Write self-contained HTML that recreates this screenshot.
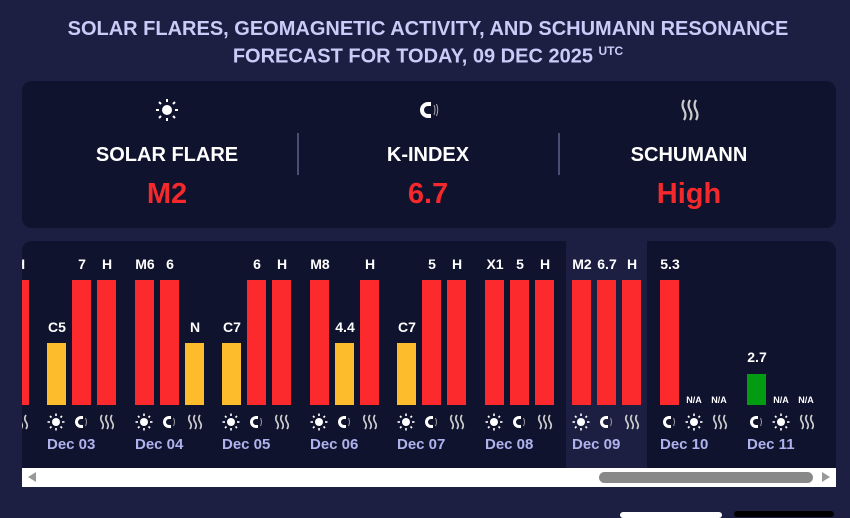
<!DOCTYPE html>
<html><head><meta charset="utf-8"><style>
*{margin:0;padding:0;box-sizing:border-box}
body{width:850px;height:515px;background:#1c1f41;font-family:"Liberation Sans",Arial,sans-serif;position:relative;overflow:hidden}
.t{position:absolute;left:0;width:856px;text-align:center;color:#c9ccf9;font-weight:bold;font-size:20px;white-space:nowrap}
.p{position:absolute;left:22px;width:814px;background:#10132e;border-radius:10px}
.ab{position:absolute}
.lab{position:absolute;color:#fff;font-weight:bold;font-size:20px;text-align:center;width:260px}
.val{position:absolute;color:#f5282b;font-weight:bold;font-size:29px;text-align:center;width:260px}
.div{position:absolute;width:2px;background:#4a4e72;top:133px;height:42px}
.bar{position:absolute;width:19px}
.bl{position:absolute;width:40px;text-align:center;color:#fff;font-weight:bold;font-size:14px}
.na{position:absolute;width:30px;text-align:center;color:#fff;font-weight:bold;font-size:9px}
.dt{position:absolute;color:#aeb3ee;font-weight:bold;font-size:15px}
</style></head><body>
<div class="t" style="top:18px">SOLAR FLARES, GEOMAGNETIC ACTIVITY, AND SCHUMANN RESONANCE</div>
<div class="t" style="top:44px">FORECAST FOR TODAY, 09 DEC 2025 <sup style="font-size:12px">UTC</sup></div>

<div class="p" style="top:81px;height:147px"></div>
<svg class="ab" style="left:155px;top:98px" width="24" height="24" viewBox="-12 -12 24 24"><circle r="5" fill="#fff"/><g stroke="#fff" stroke-width="2"><line x1="0" y1="-11" x2="0" y2="-8"/><line x1="0" y1="8" x2="0" y2="11"/><line x1="-11" y1="0" x2="-8" y2="0"/><line x1="8" y1="0" x2="11" y2="0"/><line x1="-8" y1="-8" x2="-6" y2="-6"/><line x1="6" y1="6" x2="8" y2="8"/><line x1="-8" y1="8" x2="-6" y2="6"/><line x1="6" y1="-6" x2="8" y2="-8"/></g></svg>
<svg class="ab" style="left:417px;top:100px" width="24" height="20" viewBox="0 0 24 20"><path d="M14 4 H11 A6 6 0 1 0 11 16 H14" stroke="#fff" stroke-width="4" fill="none"/><path d="M17 5 Q19 10 17 15 M19.5 4 Q22 10 19.5 16" stroke="#aaa" stroke-width="1" fill="none"/></svg>
<svg class="ab" style="left:680px;top:98px" width="20" height="24" viewBox="0 0 20 24"><g stroke="#ccc" stroke-width="2.2" fill="none"><path d="M4 2 q-3 5 0 10 q3 5 0 10"/><path d="M10 2 q-3 5 0 10 q3 5 0 10"/><path d="M16 2 q-3 5 0 10 q3 5 0 10"/></g></svg>
<div class="lab" style="left:37px;top:144px">SOLAR FLARE</div>
<div class="lab" style="left:298px;top:144px">K-INDEX</div>
<div class="lab" style="left:559px;top:144px">SCHUMANN</div>
<div class="val" style="left:37px;top:178px">M2</div>
<div class="val" style="left:298px;top:178px">6.7</div>
<div class="val" style="left:559px;top:178px">High</div>
<div class="div" style="left:297px"></div>
<div class="div" style="left:558px"></div>

<div class="p" style="top:241px;height:235px;overflow:hidden">
<div style="position:absolute;left:544px;top:0;width:81px;height:235px;background:#1c1f41"></div>
<div style="position:absolute;left:-22px;top:-241px;width:850px;height:515px">
<div class="bar" style="left:10px;top:280px;height:125px;background:#fc2a2c"></div><div class="bl" style="left:0px;top:256px">H</div>

<div class="bar" style="left:47px;top:343px;height:62px;background:#fcbc2c"></div><div class="bl" style="left:37px;top:319px">C5</div>
<div class="bar" style="left:72px;top:280px;height:125px;background:#fc2a2c"></div><div class="bl" style="left:62px;top:256px">7</div>
<div class="bar" style="left:97px;top:280px;height:125px;background:#fc2a2c"></div><div class="bl" style="left:87px;top:256px">H</div>

<div class="bar" style="left:135px;top:280px;height:125px;background:#fc2a2c"></div><div class="bl" style="left:125px;top:256px">M6</div>
<div class="bar" style="left:160px;top:280px;height:125px;background:#fc2a2c"></div><div class="bl" style="left:150px;top:256px">6</div>
<div class="bar" style="left:185px;top:343px;height:62px;background:#fcbc2c"></div><div class="bl" style="left:175px;top:319px">N</div>

<div class="bar" style="left:222px;top:343px;height:62px;background:#fcbc2c"></div><div class="bl" style="left:212px;top:319px">C7</div>
<div class="bar" style="left:247px;top:280px;height:125px;background:#fc2a2c"></div><div class="bl" style="left:237px;top:256px">6</div>
<div class="bar" style="left:272px;top:280px;height:125px;background:#fc2a2c"></div><div class="bl" style="left:262px;top:256px">H</div>

<div class="bar" style="left:310px;top:280px;height:125px;background:#fc2a2c"></div><div class="bl" style="left:300px;top:256px">M8</div>
<div class="bar" style="left:335px;top:343px;height:62px;background:#fcbc2c"></div><div class="bl" style="left:325px;top:319px">4.4</div>
<div class="bar" style="left:360px;top:280px;height:125px;background:#fc2a2c"></div><div class="bl" style="left:350px;top:256px">H</div>

<div class="bar" style="left:397px;top:343px;height:62px;background:#fcbc2c"></div><div class="bl" style="left:387px;top:319px">C7</div>
<div class="bar" style="left:422px;top:280px;height:125px;background:#fc2a2c"></div><div class="bl" style="left:412px;top:256px">5</div>
<div class="bar" style="left:447px;top:280px;height:125px;background:#fc2a2c"></div><div class="bl" style="left:437px;top:256px">H</div>

<div class="bar" style="left:485px;top:280px;height:125px;background:#fc2a2c"></div><div class="bl" style="left:475px;top:256px">X1</div>
<div class="bar" style="left:510px;top:280px;height:125px;background:#fc2a2c"></div><div class="bl" style="left:500px;top:256px">5</div>
<div class="bar" style="left:535px;top:280px;height:125px;background:#fc2a2c"></div><div class="bl" style="left:525px;top:256px">H</div>

<div class="bar" style="left:572px;top:280px;height:125px;background:#fc2a2c"></div><div class="bl" style="left:562px;top:256px">M2</div>
<div class="bar" style="left:597px;top:280px;height:125px;background:#fc2a2c"></div><div class="bl" style="left:587px;top:256px">6.7</div>
<div class="bar" style="left:622px;top:280px;height:125px;background:#fc2a2c"></div><div class="bl" style="left:612px;top:256px">H</div>

<div class="bar" style="left:660px;top:280px;height:125px;background:#fc2a2c"></div><div class="bl" style="left:650px;top:256px">5.3</div>
<div class="na" style="left:679px;top:395px">N/A</div><div class="na" style="left:704px;top:395px">N/A</div>

<div class="bar" style="left:747px;top:374px;height:31px;background:#029b12"></div><div class="bl" style="left:737px;top:349px">2.7</div>
<div class="na" style="left:766px;top:395px">N/A</div><div class="na" style="left:791px;top:395px">N/A</div>

<div class="dt" style="left:47px;top:436px">Dec 03</div>
<div class="dt" style="left:135px;top:436px">Dec 04</div>
<div class="dt" style="left:222px;top:436px">Dec 05</div>
<div class="dt" style="left:310px;top:436px">Dec 06</div>
<div class="dt" style="left:397px;top:436px">Dec 07</div>
<div class="dt" style="left:485px;top:436px">Dec 08</div>
<div class="dt" style="left:572px;top:436px">Dec 09</div>
<div class="dt" style="left:660px;top:436px">Dec 10</div>
<div class="dt" style="left:747px;top:436px">Dec 11</div>
</div>
<svg style="position:absolute;left:-22px;top:-241px" width="850" height="515">
<defs>
<g id="s"><circle r="4" fill="#fff"/><g stroke="#fff" stroke-width="1.6"><line x1="0" y1="-8.5" x2="0" y2="-6"/><line x1="0" y1="6" x2="0" y2="8.5"/><line x1="-8.5" y1="0" x2="-6" y2="0"/><line x1="6" y1="0" x2="8.5" y2="0"/><line x1="-6" y1="-6" x2="-4.5" y2="-4.5"/><line x1="4.5" y1="4.5" x2="6" y2="6"/><line x1="-6" y1="6" x2="-4.5" y2="4.5"/><line x1="4.5" y1="-4.5" x2="6" y2="-6"/></g></g>
<g id="m"><path d="M2 -4.5 H0 A4.5 4.5 0 1 0 0 4.5 H2" stroke="#fff" stroke-width="3" fill="none"/><path d="M4.5 -4 Q6.5 0 4.5 4" stroke="#999" stroke-width="1" fill="none"/></g>
<g id="w" stroke="#ccc" stroke-width="1.7" fill="none"><path d="M-5 -7 q-2.5 3.5 0 7 q2.5 3.5 0 7"/><path d="M0 -7 q-2.5 3.5 0 7 q2.5 3.5 0 7"/><path d="M5 -7 q-2.5 3.5 0 7 q2.5 3.5 0 7"/></g>
</defs>
<use href="#w" x="21" y="422"/>
<use href="#s" x="56" y="422"/><use href="#m" x="81" y="422"/><use href="#w" x="107" y="422"/>
<use href="#s" x="144" y="422"/><use href="#m" x="169" y="422"/><use href="#w" x="195" y="422"/>
<use href="#s" x="231" y="422"/><use href="#m" x="256" y="422"/><use href="#w" x="282" y="422"/>
<use href="#s" x="319" y="422"/><use href="#m" x="344" y="422"/><use href="#w" x="370" y="422"/>
<use href="#s" x="406" y="422"/><use href="#m" x="431" y="422"/><use href="#w" x="457" y="422"/>
<use href="#s" x="494" y="422"/><use href="#m" x="519" y="422"/><use href="#w" x="545" y="422"/>
<use href="#s" x="581" y="422"/><use href="#m" x="606" y="422"/><use href="#w" x="632" y="422"/>
<use href="#m" x="669" y="422"/><use href="#s" x="694" y="422"/><use href="#w" x="720" y="422"/>
<use href="#m" x="756" y="422"/><use href="#s" x="781" y="422"/><use href="#w" x="807" y="422"/>
</svg>
</div>
<div class="ab" style="left:22px;top:468px;width:814px;height:19px;background:#fff"></div>
<div class="ab" style="left:28px;top:472px;width:0;height:0;border-top:5px solid transparent;border-bottom:5px solid transparent;border-right:8px solid #999"></div>
<div class="ab" style="left:822px;top:472px;width:0;height:0;border-top:5px solid transparent;border-bottom:5px solid transparent;border-left:8px solid #999"></div>
<div class="ab" style="left:599px;top:472px;width:214px;height:11px;background:#888;border-radius:6px"></div>
<div class="ab" style="left:620px;top:512px;width:102px;height:6px;background:#fff;border-radius:3px"></div>
<div class="ab" style="left:734px;top:511px;width:100px;height:6px;background:#000;border-radius:3px"></div>
</body></html>
